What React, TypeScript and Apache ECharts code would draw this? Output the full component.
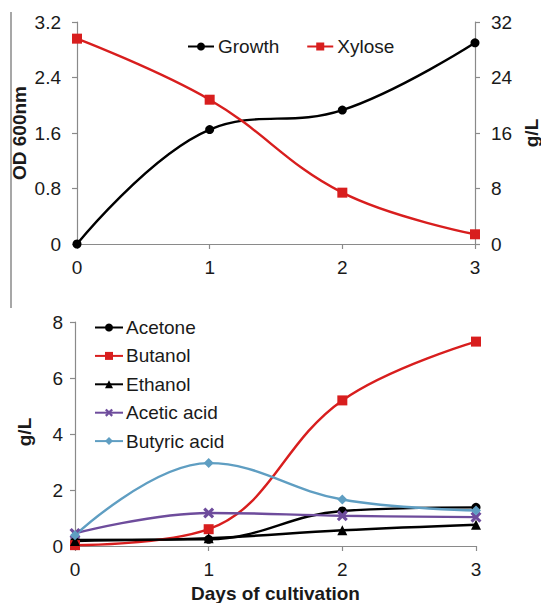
import React, { useEffect, useRef } from "react";
import * as echarts from "echarts";

const days = [0, 1, 2, 3];
const growth = [0, 1.65, 1.93, 2.9];
const xylose = [29.6, 20.8, 7.4, 1.4];

const acetone = [0.22, 0.24, 1.25, 1.38];
const butanol = [0.03, 0.6, 5.2, 7.3];
const ethanol = [0.18, 0.28, 0.56, 0.76];
const aceticAcid = [0.45, 1.18, 1.08, 1.03];
const butyricAcid = [0.38, 2.96, 1.66, 1.27];

const FONT = "Liberation Sans, Arial, sans-serif";
const AXIS = "#8a8a8a";
const TXT = "#1a1a1a";
const RED = "#d81e1e";
const PURPLE = "#6e4c9c";
const BLUE = "#5f9ec2";
const CROSS = "path://M2,0 L5,3 L8,0 L10,2 L7,5 L10,8 L8,10 L5,7 L2,10 L0,8 L3,5 L0,2 Z";

const pairs = (ys: number[]) => days.map((d, i) => [d, ys[i]]);

export default function App() {
  const ref = useRef<HTMLDivElement>(null);
  useEffect(() => {
    if (!ref.current) return;
    const chart = echarts.init(ref.current, null, { renderer: "svg" });
    const axisLine = { show: true, lineStyle: { color: AXIS, width: 1.2 } };
    const axisTick = { show: true, length: 5, lineStyle: { color: AXIS, width: 1.2 } };
    const label = { color: TXT, fontSize: 19, fontFamily: FONT };
    const nameStyle = { color: TXT, fontSize: 19, fontWeight: "bold" as const, fontFamily: FONT };
    const titleText = (text: string, x: number, y: number) => ({
      type: "text",
      x,
      y,
      rotation: Math.PI / 2,
      style: {
        text,
        fill: TXT,
        font: `bold 19px ${FONT}`,
        align: "center",
        verticalAlign: "middle",
      },
    });
    const xAxisBase = {
      type: "value" as const,
      min: 0,
      max: 3,
      interval: 1,
      axisLine,
      axisTick,
      splitLine: { show: false },
      axisLabel: { ...label, margin: 14 },
    };
    const line = (name: string, xi: number, yi: number, data: number[], color: string, symbol: string, size: number) => ({
      name,
      type: "line" as const,
      xAxisIndex: xi,
      yAxisIndex: yi,
      data: pairs(data),
      smooth: 0.4,
      symbol,
      symbolSize: size,
      lineStyle: { color, width: 2.4 },
      itemStyle: { color },
    });
    chart.setOption({
      animation: false,
      backgroundColor: "#ffffff",
      grid: [
        { left: 77, right: 66, top: 22, height: 222, outerBoundsMode: "none", containLabel: false },
        { left: 75, right: 65, top: 322, height: 224, outerBoundsMode: "none", containLabel: false },
      ],
      xAxis: [
        { ...xAxisBase, gridIndex: 0 },
        {
          ...xAxisBase,
          gridIndex: 1,
          name: "Days of cultivation",
          nameLocation: "middle",
          nameGap: 38,
          nameTextStyle: nameStyle,
        },
      ],
      yAxis: [
        {
          type: "value",
          gridIndex: 0,
          min: 0,
          max: 3.2,
          interval: 0.8,
          axisLine,
          axisTick,
          splitLine: { show: false },
          axisLabel: { ...label, margin: 16 },
        },
        {
          type: "value",
          gridIndex: 0,
          position: "right",
          min: 0,
          max: 32,
          interval: 8,
          axisLine,
          axisTick,
          splitLine: { show: false },
          axisLabel: { ...label, margin: 16 },
        },
        {
          type: "value",
          gridIndex: 1,
          min: 0,
          max: 8,
          interval: 2,
          axisLine,
          axisTick,
          splitLine: { show: false },
          axisLabel: { ...label, margin: 12 },
        },
      ],
      legend: [
        {
          data: ["Growth", "Xylose"],
          orient: "horizontal",
          left: 187,
          top: 37,
          itemWidth: 26,
          itemHeight: 10,
          itemGap: 27,
          padding: 0,
          textStyle: { ...label, padding: [0, 0, 0, -1] },
        },
        {
          data: ["Acetone", "Butanol", "Ethanol", "Acetic acid", "Butyric acid"],
          orient: "vertical",
          left: 94,
          top: 318,
          itemWidth: 28,
          itemHeight: 10,
          itemGap: 9.4,
          padding: 0,
          textStyle: { ...label, padding: [0, 0, 0, -2] },
        },
      ],
      series: [
        line("Growth", 0, 0, growth, "#000000", "circle", 9),
        line("Xylose", 0, 1, xylose, RED, "rect", 10),
        line("Acetone", 1, 2, acetone, "#000000", "circle", 9),
        line("Butanol", 1, 2, butanol, RED, "rect", 10),
        line("Ethanol", 1, 2, ethanol, "#000000", "triangle", 10),
        line("Acetic acid", 1, 2, aceticAcid, PURPLE, CROSS, 11),
        line("Butyric acid", 1, 2, butyricAcid, BLUE, "diamond", 10),
      ],
      graphic: [
        {
          type: "line",
          shape: { x1: 11, y1: 12, x2: 11, y2: 308 },
          style: { stroke: AXIS, lineWidth: 1.5 },
        },
        titleText("OD 600nm", 19, 133),
        titleText("g/L", 531, 133),
        titleText("g/L", 24, 432),
      ],
    });
    return () => chart.dispose();
  }, []);
  return (
    <div
      ref={ref}
      style={{ position: "fixed", left: 0, top: 0, width: 541, height: 603 }}
    />
  );
}
